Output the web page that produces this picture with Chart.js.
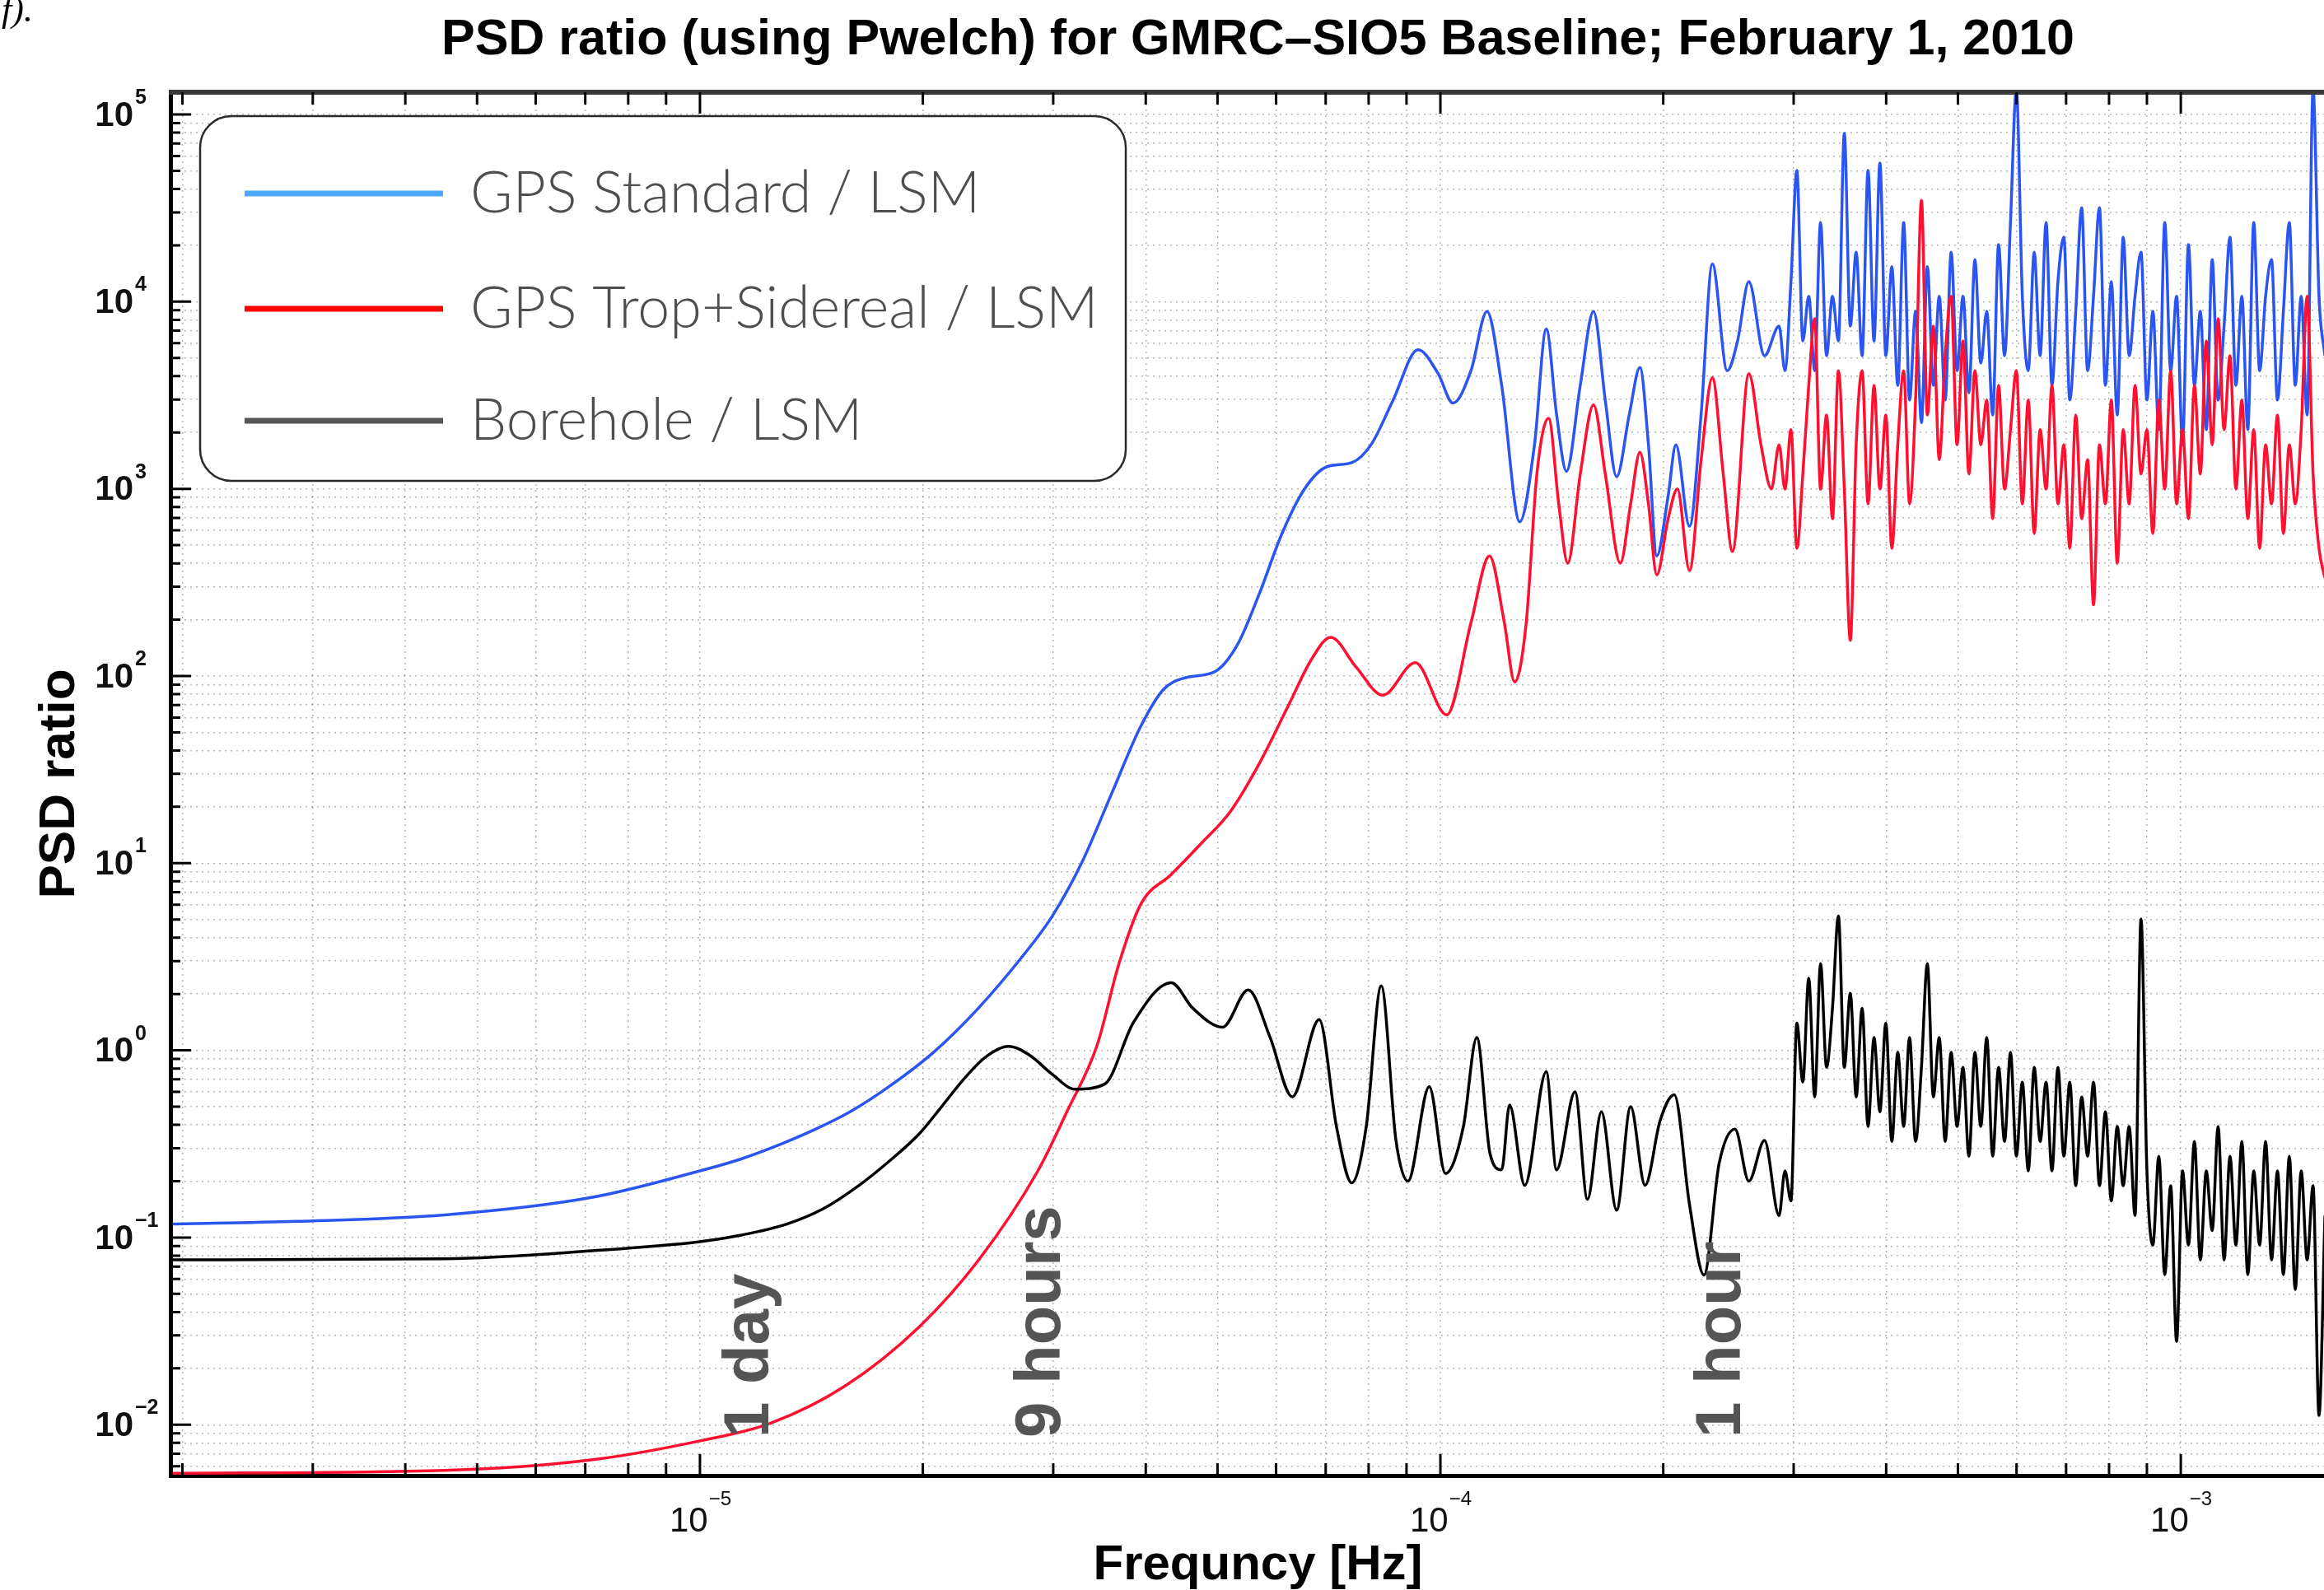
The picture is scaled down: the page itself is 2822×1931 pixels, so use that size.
<!DOCTYPE html>
<html lang="en">
<head>
<meta charset="UTF-8">
<title>PSD ratio - GMRC-SIO5 Baseline</title>
<script src="https://cdn.jsdelivr.net/npm/chart.js"></script>
<style>
  html, body { margin: 0; padding: 0; background: #fff; overflow: hidden; }
  #wrap { width: 2822px; height: 1931px; }
</style>
</head>
<body>
<div id="wrap"><canvas id="psd" width="2822" height="1931"></canvas></div>
<script>
// values (frequency in Hz, PSD ratio)
// low-frequency part, one array pair per series
const blueFreq = [1.94e-6, 2.85e-6, 4.52e-6, 7.16e-6, 1.0e-5, 1.137e-5, 1.246e-5, 1.43e-5, 1.6e-5, 1.80e-5,
  2.07e-5, 2.38e-5, 2.73e-5, 2.99e-5, 3.28e-5, 3.60e-5, 3.94e-5, 4.23e-5, 4.53e-5, 4.97e-5,
  5.32e-5, 5.70e-5, 6.11e-5, 6.55e-5, 7.02e-5, 7.59e-5, 8.06e-5, 8.63e-5, 9.33e-5, 9.93e-5,
  1.04e-4, 1.10e-4, 1.156e-4, 1.21e-4, 1.28e-4, 1.34e-4, 1.39e-4, 1.435e-4, 1.48e-4, 1.545e-4,
  1.61e-4, 1.67e-4, 1.73e-4, 1.80e-4, 1.86e-4, 1.91e-4, 1.96e-4, 2.03e-4, 2.08e-4, 2.17e-4,
  2.25e-4, 2.33e-4, 2.44e-4, 2.52e-4, 2.61e-4, 2.74e-4];
const blueVal = [0.118, 0.122, 0.132, 0.164, 0.227, 0.263, 0.30, 0.378, 0.473, 0.64,
  0.98, 1.69, 3.2, 5.2, 10.1, 23.7, 54, 85, 98, 106,
  147, 278, 577, 995, 1310, 1380, 1720, 2970, 5530, 4130,
  2870, 4290, 8870, 3570, 667, 1720, 7140, 2510, 1240, 3570,
  8870, 2970, 1160, 2510, 4450, 1720, 438, 910, 1720, 631,
  2510, 15900, 4280, 6170, 12800, 5140];

const redFreq = [1.94e-6, 4.52e-6, 7.16e-6, 1.0e-5, 1.246e-5, 1.57e-5, 1.98e-5, 2.38e-5, 2.86e-5, 3.13e-5,
  3.44e-5, 3.68e-5, 3.94e-5, 4.33e-5, 4.74e-5, 5.20e-5, 5.70e-5, 6.25e-5, 6.70e-5, 7.11e-5,
  7.69e-5, 8.36e-5, 9.25e-5, 1.02e-4, 1.10e-4, 1.165e-4, 1.22e-4, 1.26e-4, 1.306e-4, 1.35e-4,
  1.40e-4, 1.445e-4, 1.486e-4, 1.545e-4, 1.61e-4, 1.67e-4, 1.75e-4, 1.807e-4, 1.86e-4, 1.91e-4,
  1.96e-4, 2.03e-4, 2.09e-4, 2.17e-4, 2.25e-4, 2.33e-4, 2.41e-4, 2.48e-4, 2.61e-4, 2.71e-4, 2.80e-4];
const redVal = [0.0055, 0.0057, 0.0065, 0.0082, 0.0102, 0.0161, 0.0335, 0.076, 0.227, 0.47,
  1.07, 2.9, 6.05, 8.7, 12.6, 18.8, 34.3, 71, 123, 161,
  112, 79, 118, 62, 193, 438, 193, 93, 193, 1200,
  2380, 830, 401, 1200, 2810, 1200, 401, 830, 1570, 830,
  347, 690, 1000, 366, 1430, 3920, 1200, 463, 4130, 1720, 1000];

const blackFreq = [1.94e-6, 4.52e-6, 7.16e-6, 1.0e-5, 1.137e-5, 1.31e-5, 1.465e-5, 1.64e-5, 1.80e-5, 1.98e-5,
  2.12e-5, 2.27e-5, 2.43e-5, 2.61e-5, 2.79e-5, 2.99e-5, 3.21e-5, 3.52e-5, 3.85e-5, 4.33e-5,
  4.63e-5, 5.08e-5, 5.50e-5, 5.89e-5, 6.31e-5, 6.86e-5, 7.24e-5, 7.59e-5, 7.94e-5, 8.32e-5,
  8.71e-5, 9.04e-5, 9.66e-5, 1.016e-4, 1.074e-4, 1.12e-4, 1.167e-4, 1.21e-4, 1.24e-4, 1.30e-4,
  1.39e-4, 1.435e-4, 1.52e-4, 1.58e-4, 1.65e-4, 1.73e-4, 1.807e-4, 1.89e-4, 1.98e-4, 2.07e-4,
  2.17e-4, 2.27e-4, 2.38e-4, 2.50e-4, 2.61e-4, 2.74e-4];
const blackVal = [0.076, 0.077, 0.085, 0.095, 0.103, 0.118, 0.142, 0.19, 0.255, 0.36,
  0.50, 0.70, 0.92, 1.05, 0.94, 0.745, 0.62, 0.66, 1.41, 2.3,
  1.68, 1.33, 2.1, 1.17, 0.565, 1.46, 0.39, 0.196, 0.39, 2.21,
  0.33, 0.2, 0.64, 0.22, 0.39, 1.17, 0.28, 0.23, 0.51, 0.19,
  0.77, 0.23, 0.6, 0.16, 0.47, 0.14, 0.5, 0.19, 0.42, 0.58,
  0.15, 0.063, 0.25, 0.38, 0.2, 0.33];

// high-frequency (noisy) part, shared frequency grid
const noiseFreq = [2.867e-4, 2.920e-4, 2.975e-4, 3.030e-4, 3.087e-4, 3.144e-4, 3.203e-4, 3.262e-4, 3.323e-4, 3.385e-4,
  3.448e-4, 3.512e-4, 3.578e-4, 3.644e-4, 3.712e-4, 3.781e-4, 3.852e-4, 3.923e-4, 3.996e-4, 4.071e-4,
  4.147e-4, 4.224e-4, 4.302e-4, 4.383e-4, 4.464e-4, 4.547e-4, 4.632e-4, 4.718e-4, 4.806e-4, 4.896e-4,
  4.987e-4, 5.080e-4, 5.174e-4, 5.271e-4, 5.369e-4, 5.469e-4, 5.571e-4, 5.674e-4, 5.780e-4, 5.888e-4,
  5.997e-4, 6.109e-4, 6.223e-4, 6.339e-4, 6.457e-4, 6.577e-4, 6.699e-4, 6.824e-4, 6.951e-4, 7.081e-4,
  7.213e-4, 7.347e-4, 7.484e-4, 7.623e-4, 7.765e-4, 7.910e-4, 8.057e-4, 8.207e-4, 8.360e-4, 8.516e-4,
  8.674e-4, 8.836e-4, 9.000e-4, 9.168e-4, 9.339e-4, 9.513e-4, 9.690e-4, 9.870e-4, 1.0054e-3, 1.0241e-3,
  1.0432e-3, 1.0626e-3, 1.0824e-3, 1.1026e-3, 1.1231e-3, 1.1440e-3, 1.1653e-3, 1.1870e-3, 1.2091e-3, 1.2316e-3,
  1.2546e-3, 1.2779e-3, 1.3017e-3, 1.3260e-3, 1.3507e-3, 1.3758e-3, 1.4014e-3, 1.4275e-3, 1.4541e-3, 1.4812e-3,
  1.5088e-3, 1.5369e-3, 1.5655e-3];
const blueNoise = [7400, 4280, 12800, 50200, 6170, 10700, 4280, 26500, 5140, 10700,
  6170, 79300, 7400, 18400, 5140, 50200, 6170, 55000, 5140, 15400,
  3570, 26500, 2980, 8880, 2260, 15400, 3570, 10700, 2980, 18400,
  4280, 10700, 3260, 16800, 4690, 8880, 2480, 20200, 5140, 26500,
  137000, 10700, 4280, 18400, 5140, 26500, 3570, 12800, 22100, 2980,
  8880, 31800, 4280, 10700, 31800, 3570, 12800, 2480, 22100, 5140,
  10700, 18400, 2980, 8880, 2070, 26500, 4280, 10700, 1720, 20200,
  3570, 8880, 2070, 16800, 2980, 7400, 22100, 3570, 10700, 2070,
  26500, 4280, 10700, 16800, 2980, 8880, 26500, 3570, 10700, 2480,
  137000, 10700, 5140];
const redNoise = [1720, 996, 2070, 481, 1200, 3570, 8110, 996, 2480, 692,
  4280, 996, 155, 1720, 4280, 830, 3570, 996, 2480, 481,
  1720, 4280, 830, 2980, 34800, 2480, 7400, 1430, 5140, 10700,
  1720, 6170, 1200, 4280, 1720, 2980, 692, 3570, 996, 2070,
  4280, 830, 2980, 577, 2070, 996, 3570, 830, 1720, 481,
  2480, 692, 1430, 240, 1720, 830, 2980, 400, 2070, 830,
  3570, 1200, 2070, 577, 2980, 996, 4280, 830, 2070, 692,
  3570, 1200, 6170, 1720, 8110, 2070, 5140, 996, 2980, 692,
  2070, 481, 1720, 830, 2480, 577, 1720, 830, 2070, 10700,
  1200, 481, 334];
const blackNoise = [0.131, 0.227, 0.157, 1.40, 0.677, 2.43, 0.564, 2.91, 0.812, 1.68,
  5.22, 0.812, 2.02, 0.564, 1.68, 0.392, 1.17, 0.470, 1.40, 0.326,
  0.975, 0.392, 1.17, 0.326, 0.812, 2.91, 0.564, 1.17, 0.326, 0.975,
  0.392, 0.812, 0.272, 0.975, 0.392, 1.17, 0.272, 0.812, 0.326, 0.975,
  0.272, 0.677, 0.227, 0.812, 0.326, 0.677, 0.227, 0.812, 0.272, 0.677,
  0.189, 0.564, 0.272, 0.677, 0.189, 0.470, 0.157, 0.392, 0.189, 0.392,
  0.131, 5.03, 0.227, 0.0911, 0.272, 0.0633, 0.189, 0.0279, 0.227, 0.0911,
  0.326, 0.0759, 0.227, 0.109, 0.392, 0.0759, 0.272, 0.0911, 0.326, 0.0633,
  0.227, 0.0911, 0.326, 0.0759, 0.227, 0.0633, 0.272, 0.0527, 0.227, 0.0759,
  0.189, 0.0112, 0.131];

const seriesNames = ['GPS Standard / LSM', 'GPS Trop+Sidereal / LSM', 'Borehole / LSM'];
const lineColors = ['#2a55f0', '#ff1030', '#000000'];
const legendColors = ['#4ea8f8', '#ff0000', '#555555'];

const periodNames = ['1 day', '9 hours', '1 hour'];
const periodFreq = [1.236e-5, 3.06e-5, 2.54e-4];

const xMin = 1.927e-6, xMax = 1.561e-3;
const yMin = 5.35e-3, yMax = 1.315e5;

function pairs(fs, vs) { return fs.map((f, i) => ({ x: f, y: vs[i] })); }

function logTicks(min, max) {
  const out = [];
  for (let e = Math.floor(Math.log10(min)); e <= Math.ceil(Math.log10(max)); e++) {
    for (let m = 1; m <= 9; m++) {
      const v = m * Math.pow(10, e);
      if (v >= min * 0.999 && v <= max * 1.001) out.push({ value: v });
    }
  }
  return out;
}
function isDecade(v) {
  const l = Math.log10(v);
  return Math.abs(l - Math.round(l)) < 1e-6;
}

const FONT = '"Liberation Sans", Arial, Helvetica, sans-serif';

const frame = {
  id: 'frame',
  afterDraw(chart) {
    const ctx = chart.ctx, a = chart.chartArea;
    const xs = chart.scales.x, ys = chart.scales.y;
    ctx.save();

    // top border
    ctx.fillStyle = '#3a3a3a';
    ctx.fillRect(a.left - 2, a.top - 3, a.right - a.left + 2, 6);

    // inward ticks
    ctx.strokeStyle = '#000';
    ctx.lineWidth = 3;
    ctx.beginPath();
    xs.ticks.forEach(t => {
      const px = xs.getPixelForValue(t.value);
      const L = isDecade(t.value) ? 26 : 15;
      ctx.moveTo(px, a.bottom); ctx.lineTo(px, a.bottom - L);
      ctx.moveTo(px, a.top); ctx.lineTo(px, a.top + L);
    });
    ys.ticks.forEach(t => {
      const py = ys.getPixelForValue(t.value);
      const L = isDecade(t.value) ? 25 : 12;
      ctx.moveTo(a.left, py); ctx.lineTo(a.left + L, py);
    });
    ctx.stroke();

    // y tick labels 10^n
    ctx.fillStyle = '#111';
    ys.ticks.filter(t => isDecade(t.value)).forEach(t => {
      const py = ys.getPixelForValue(t.value);
      const e = Math.round(Math.log10(t.value));
      ctx.font = 'bold 42px ' + FONT;
      ctx.textAlign = 'right'; ctx.textBaseline = 'middle';
      ctx.fillText('10', 162, py + 2);
      ctx.font = 'bold 25px ' + FONT;
      ctx.textAlign = 'left';
      ctx.fillText((e < 0 ? '\u2212' : '') + Math.abs(e), 164, py - 20);
    });

    // x tick labels 10^n
    xs.ticks.filter(t => isDecade(t.value)).forEach(t => {
      const px = xs.getPixelForValue(t.value);
      const e = Math.round(Math.log10(t.value));
      const es = (e < 0 ? '\u2212' : '') + Math.abs(e);
      ctx.font = '42px ' + FONT;
      const w1 = ctx.measureText('10').width;
      ctx.font = '24px ' + FONT;
      const w2 = ctx.measureText(es).width;
      const x0 = px - (w1 + w2) / 2;
      ctx.textAlign = 'left'; ctx.textBaseline = 'middle';
      ctx.font = '42px ' + FONT;
      ctx.fillText('10', x0, 1848);
      ctx.font = '24px ' + FONT;
      ctx.fillText(es, x0 + w1 + 1, 1821);
    });

    // titles
    const cx = (a.left + a.right) / 2 + 13;
    ctx.fillStyle = '#000';
    ctx.font = 'bold 61px ' + FONT;
    ctx.textAlign = 'center'; ctx.textBaseline = 'alphabetic';
    ctx.fillText('PSD ratio (using Pwelch) for GMRC\u2013SIO5 Baseline; February 1, 2010', cx, 66);
    ctx.font = 'bold 60px ' + FONT;
    ctx.fillText('Frequncy [Hz]', cx, 1918);
    ctx.save();
    ctx.translate(90, (a.top + a.bottom) / 2);
    ctx.rotate(-Math.PI / 2);
    ctx.font = 'bold 62px ' + FONT;
    ctx.fillText('PSD ratio', 0, 0);
    ctx.restore();

    // panel letter remnant at top-left
    ctx.font = 'italic 44px "Liberation Serif", serif';
    ctx.textAlign = 'right';
    ctx.fillText('f).', 40, 26);

    // period annotations
    ctx.fillStyle = '#555555';
    ctx.font = 'bold 78px ' + FONT;
    periodNames.forEach((s, i) => {
      const px = xs.getPixelForValue(periodFreq[i]);
      ctx.save();
      ctx.translate(px, a.bottom - 46);
      ctx.rotate(-Math.PI / 2);
      ctx.textAlign = 'left'; ctx.textBaseline = 'alphabetic';
      ctx.fillText(s, 0, 0);
      ctx.restore();
    });

    // legend box
    const L = { x1: 243, y1: 141, x2: 1367, y2: 584, r: 38 };
    ctx.beginPath();
    ctx.roundRect(L.x1, L.y1, L.x2 - L.x1, L.y2 - L.y1, L.r);
    ctx.fillStyle = '#fff';
    ctx.fill();
    ctx.lineWidth = 2.5;
    ctx.strokeStyle = '#2a2a2a';
    ctx.stroke();
    const rowY = [235, 375, 511];
    chart.data.datasets.forEach((ds, i) => {
      ctx.beginPath();
      ctx.moveTo(297, rowY[i]); ctx.lineTo(538, rowY[i]);
      ctx.lineWidth = 7;
      ctx.strokeStyle = legendColors[i];
      ctx.stroke();
      ctx.fillStyle = '#4e4e4e';
      ctx.font = '300 70px Lato, "Open Sans", sans-serif';
      ctx.textAlign = 'left'; ctx.textBaseline = 'alphabetic';
      ctx.fillText(ds.label, 571, rowY[i] + 23);
    });

    ctx.restore();
  }
};

const ctx = document.getElementById('psd');
const chart = new Chart(ctx, {
  type: 'line',
  data: {
    datasets: [
      { label: seriesNames[0], data: pairs(blueFreq.concat(noiseFreq), blueVal.concat(blueNoise)), borderColor: lineColors[0], order: 3 },
      { label: seriesNames[1], data: pairs(redFreq.concat(noiseFreq), redVal.concat(redNoise)), borderColor: lineColors[1], order: 2 },
      { label: seriesNames[2], data: pairs(blackFreq.concat(noiseFreq), blackVal.concat(blackNoise)), borderColor: lineColors[2], order: 1 }
    ]
  },
  options: {
    responsive: false,
    animation: false,
    devicePixelRatio: 1,
    elements: {
      point: { radius: 0 },
      line: { borderWidth: 3.5, cubicInterpolationMode: 'monotone', fill: false }
    },
    layout: { padding: { top: 112, left: 0, right: 0, bottom: 0 } },
    plugins: { legend: { display: false }, tooltip: { enabled: false }, title: { display: false } },
    scales: {
      x: {
        type: 'logarithmic', min: xMin, max: xMax,
        afterBuildTicks: s => { s.ticks = logTicks(s.min, s.max); },
        afterFit: s => { s.height = 139; },
        ticks: { display: false },
        grid: { color: 'rgba(90,90,90,0.45)', lineWidth: 1.5, drawTicks: false },
        border: { color: '#000', width: 5, dash: [2, 5] }
      },
      y: {
        type: 'logarithmic', min: yMin, max: yMax,
        afterBuildTicks: s => { s.ticks = logTicks(s.min, s.max); },
        afterFit: s => { s.width = 207; },
        ticks: { display: false },
        grid: { color: 'rgba(90,90,90,0.45)', lineWidth: 1.5, drawTicks: false },
        border: { color: '#000', width: 5, dash: [2, 5] }
      }
    }
  },
  plugins: [frame]
});
</script>
</body>
</html>
